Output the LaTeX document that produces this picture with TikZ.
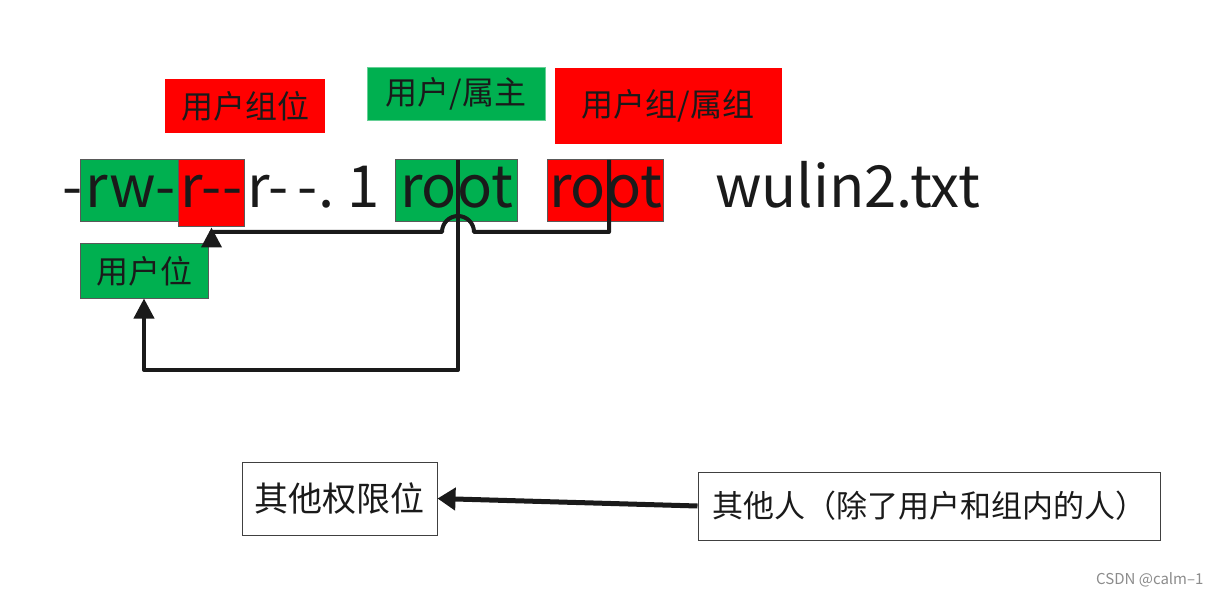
\documentclass[tikz,border=0pt]{standalone}
\usepackage{fontspec}
\setmainfont{Noto Sans CJK SC}
\usetikzlibrary{arrows.meta, positioning, calc}
\definecolor{boxgreen}{HTML}{00B050}
\definecolor{boxred}{HTML}{FF0000}
\definecolor{inkline}{HTML}{1A1A1A}

\tikzset{
  permtext/.style={inner sep=0pt, font=\fontsize{58}{58}\selectfont, text=inkline},
  permbox/.style={permtext, draw=black!65, line width=1pt, text height=48pt, text depth=14pt},
  tagbox/.style={inner sep=0pt, font=\fontsize{32}{32}\selectfont, text=inkline},
  plainbox/.style={tagbox, draw=black!75, line width=1pt, fill=white},
  conn/.style={draw=inkline, line width=4pt, line join=round},
}

\begin{document}
\begin{tikzpicture}[x=1pt, y=-1pt]
  \useasboundingbox[fill=white] (0,0) rectangle (1221,596);

  % labels above the listing
  \node[tagbox, fill=boxred, minimum width=160pt, minimum height=54pt] (grpbit) at (245,106) {用户组位};
  \node[tagbox, fill=boxgreen, draw=boxgreen!60, minimum width=178pt, minimum height=53pt] (owner) at (456,94) {用户/属主};
  \node[tagbox, fill=boxred, minimum width=227pt, minimum height=76pt] (group) at (668,106) {用户组/属组};

  % the listing line
  \node[permtext, anchor=base west] (dash) at (62,208) {-};
  \node[permbox, fill=boxgreen, anchor=base west, minimum width=100pt] (rw) at (80,208) {rw-};
  \node[permbox, fill=boxred, anchor=base west, minimum width=66pt, text depth=19pt] (rgrp) at (178,208) {r-{}-};
  \node[permtext, anchor=base west] (rest) at (247,208) {r-\,-.\ 1};
  \node[permbox, fill=boxgreen, anchor=base west, minimum width=122pt] (rootA) at (395,208) {root};
  \node[permbox, fill=boxred, anchor=base west, minimum width=116pt] (rootB) at (547,208) {root};
  \node[permtext, anchor=base west] (fname) at (715,208) {wulin2.txt};

  \node[tagbox, fill=boxgreen, draw=black!65, line width=1pt, minimum width=128pt, minimum height=54pt] (userbit) at (144,271) {用户位};

  % connectors
  \coordinate (cA) at (458,160);
  \coordinate (cB) at (609,160);
  \coordinate (hop) at (458,232);
  \draw[conn, -{Triangle[length=20pt, width=20pt]}] (cB) |- ([xshift=16pt]hop)
    arc[start angle=0, end angle=180, radius=16pt] -| (rgrp.south);
  \draw[conn, -{Triangle[length=20pt, width=20pt]}] (cA) -- (458,370) -| (userbit.south);

  % others
  \node[plainbox, font=\fontsize{34}{34}\selectfont, minimum width=195pt, minimum height=73pt] (perm) at (339.5,498.5) {其他权限位};
  \node[plainbox, font=\fontsize{31}{31}\selectfont, minimum width=462pt, minimum height=68pt] (others) at (929,506) {其他人（除了用户和组内的人）};
  \draw[conn, line width=5pt, -{Triangle[length=18pt, width=22pt]}] (others.west) -- (perm.east);

  \node[font=\fontsize{15}{15}\selectfont, text=black!45, anchor=east] (mark) at (1207,580) {CSDN @calm–1};
\end{tikzpicture}
\end{document}
